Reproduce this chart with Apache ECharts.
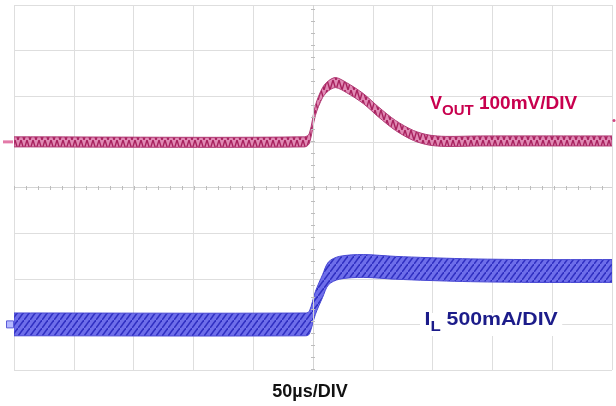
<!DOCTYPE html>
<html>
<head>
<meta charset="utf-8">
<script src="https://cdn.jsdelivr.net/npm/echarts@6/dist/echarts.min.js"></script>
<style>
  html, body { margin: 0; padding: 0; background: #fff; }
</style>
</head>
<body>
<div id="main" style="width: 616px; height: 406px"></div>
<script>
// time base: 50 us/div, 10 divisions
const timeVout = [0, 243, 247, 252, 258, 263, 269, 278, 292, 305, 319, 334, 347, 361, 390, 500];
const voutMv = [0, 0, 8, 69, 108, 123, 130, 119, 95, 65, 36, 14, 4, 1, 2, 2]; // deviation, 100 mV/div
const voutRippleMv = 22; // band thickness, peak to peak

const timeIl = [0, 244, 247, 252, 258, 263, 272, 292, 319, 375, 431, 500];
const ilAmp = [0.5, 0.5, 0.52, 0.735, 0.92, 1.06, 1.12, 1.14, 1.12, 1.095, 1.085, 1.085]; // 500 mA/div
const ilRippleA = 0.25;

const centerPoint = [[250, 4]];

const font = "'Liberation Sans', Arial, sans-serif";

const voutData = timeVout.map((t, i) => [t, voutMv[i]]);
const ilData = timeIl.map((t, i) => [t, ilAmp[i]]);

// small repeating tiles to imitate the switching ripple texture of the scope traces
function makePattern(w, h, bg, fg, lw, draw) {
  const c = document.createElement("canvas");
  c.width = w;
  c.height = h;
  const ctx = c.getContext("2d");
  ctx.fillStyle = bg;
  ctx.fillRect(0, 0, w, h);
  ctx.strokeStyle = fg;
  ctx.lineWidth = lw;
  ctx.beginPath();
  draw(ctx);
  ctx.stroke();
  return { image: c, repeat: "repeat" };
}

const voutPattern = makePattern(6, 10, "#e08ab4", "#a8225f", 1.4, (ctx) => {
  ctx.moveTo(0, 10);
  ctx.lineTo(3, 0);
  ctx.lineTo(6, 10);
});
const ilPattern = makePattern(6, 8, "#6e6eea", "#3030c2", 1.6, (ctx) => {
  ctx.moveTo(0, 8);
  ctx.lineTo(6, 0);
});

function bandRenderer(times, values, ripple, fill, stroke) {
  return function (params, api) {
    if (params.dataIndex !== 0) return;
    const upper = times.map((t, i) => api.coord([t, values[i] + ripple / 2]));
    const lower = times.map((t, i) => api.coord([t, values[i] - ripple / 2])).reverse();
    // repeat the end vertices so the closed smoothing keeps square ends
    const pts = [upper[0]].concat(upper, [upper[upper.length - 1]], [lower[0]], lower, [lower[lower.length - 1]]);
    return {
      type: "polygon",
      shape: { points: pts, smooth: 0.3 },
      style: { fill: fill, stroke: stroke, lineWidth: 1 },
    };
  };
}

const hiddenAxis = {
  axisLine: { show: false },
  axisTick: { show: false },
  axisLabel: { show: false },
  splitLine: { show: false },
};

const chart = echarts.init(document.getElementById("main"));

const option = {
  animation: false,
  grid: { left: 14, right: 4, top: 5, bottom: 36 },
  xAxis: {
    type: "value",
    min: 0,
    max: 500,
    interval: 50,
    ...hiddenAxis,
    splitLine: { show: true, lineStyle: { color: "#dedede", width: 1 } },
  },
  yAxis: [
    {
      type: "value",
      min: 0,
      max: 8,
      interval: 1,
      ...hiddenAxis,
      splitLine: { show: true, lineStyle: { color: "#dedede", width: 1 } },
    },
    { type: "value", min: -500, max: 300, ...hiddenAxis }, // Vout, mV
    { type: "value", min: 0, max: 4, ...hiddenAxis }, // IL, A
  ],
  series: [
    {
      // graticule centre lines with small ticks
      type: "line",
      yAxisIndex: 0,
      data: centerPoint,
      symbol: "none",
      silent: true,
      markLine: {
        silent: true,
        symbol: "none",
        label: { show: false },
        data: [
          { xAxis: 250, lineStyle: { color: "#d4d4d4", width: 1, type: "solid" } },
          { yAxis: 4, lineStyle: { color: "#d4d4d4", width: 1, type: "solid" } },
          { xAxis: 250, lineStyle: { color: "#bdbdbd", width: 4, type: [1, 11] } },
          { yAxis: 4, lineStyle: { color: "#bdbdbd", width: 4, type: [1, 11] } },
        ],
      },
    },
    {
      name: "Vout",
      type: "custom",
      yAxisIndex: 1,
      data: voutData,
      clip: true,
      silent: true,
      renderItem: bandRenderer(timeVout, voutMv, voutRippleMv, voutPattern, "#b03a74"),
    },
    {
      name: "IL",
      type: "custom",
      yAxisIndex: 2,
      data: ilData,
      clip: true,
      silent: true,
      renderItem: bandRenderer(timeIl, ilAmp, ilRippleA, ilPattern, "#4646d2"),
    },
    {
      // channel ground / trigger markers
      type: "line",
      yAxisIndex: 1,
      data: voutData,
      showSymbol: false,
      silent: true,
      lineStyle: { opacity: 0 },
      markPoint: {
        silent: true,
        label: { show: false },
        data: [
          { coord: [0, 0], symbol: "rect", symbolSize: [10, 3], symbolOffset: [-6, 0], itemStyle: { color: "#e37aa8" } },
          { coord: [500, 47], symbol: "circle", symbolSize: 3, symbolOffset: [2, 0], itemStyle: { color: "#d0457f" } },
        ],
      },
    },
    {
      type: "line",
      yAxisIndex: 2,
      data: ilData,
      showSymbol: false,
      silent: true,
      lineStyle: { opacity: 0 },
      markPoint: {
        silent: true,
        label: { show: false },
        data: [
          {
            coord: [0, 0.5],
            symbol: "rect",
            symbolSize: [7, 7],
            symbolOffset: [-4, 0],
            itemStyle: { color: "#b4b8ff", borderColor: "#5a5ad8", borderWidth: 1 },
          },
        ],
      },
    },
  ],
  graphic: [
    {
      type: "text",
      x: 426,
      y: 97,
      z: 100,
      style: {
        text: "{v|V}{s|OUT}{m| 100mV/DIV}",
        backgroundColor: "#fff",
        padding: [2, 4, 2, 4],
        rich: {
          v: { fontFamily: font, fontWeight: "bold", fontSize: 18, lineHeight: 18, fill: "#c8004e", verticalAlign: "bottom", padding: [0, 0, 5, 0] },
          s: { fontFamily: font, fontWeight: "bold", fontSize: 15, lineHeight: 15, fill: "#c8004e", verticalAlign: "bottom" },
          m: { fontFamily: font, fontWeight: "bold", fontSize: 19, lineHeight: 19, fill: "#c8004e", verticalAlign: "bottom", padding: [0, 0, 5, 0] },
        },
      },
    },
    {
      type: "text",
      x: 420,
      y: 313,
      z: 100,
      scaleX: 1.12,
      style: {
        text: "{v|I}{s|L}{v| 500mA/DIV}",
        backgroundColor: "#fff",
        padding: [2, 4, 2, 4],
        rich: {
          v: { fontFamily: font, fontWeight: "bold", fontSize: 19, lineHeight: 19, fill: "#1c1c8a", verticalAlign: "bottom", padding: [0, 0, 5, 0] },
          s: { fontFamily: font, fontWeight: "bold", fontSize: 15, lineHeight: 15, fill: "#1c1c8a", verticalAlign: "bottom" },
        },
      },
    },
    {
      type: "text",
      x: 310,
      y: 392,
      z: 100,
      style: {
        text: "50µs/DIV",
        fontFamily: font,
        fontWeight: "bold",
        fontSize: 18,
        fill: "#111",
        align: "center",
        verticalAlign: "middle",
      },
    },
  ],
};

chart.setOption(option);
</script>
</body>
</html>
